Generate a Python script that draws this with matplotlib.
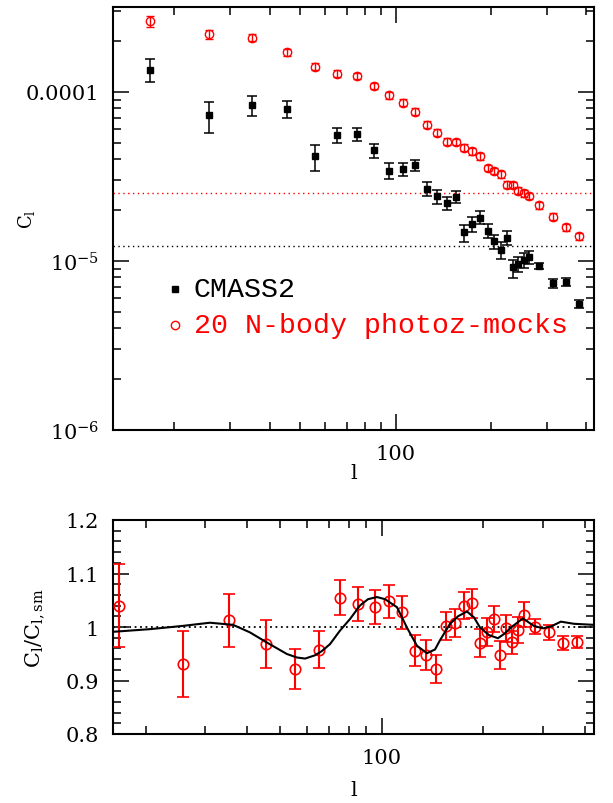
import matplotlib
matplotlib.use("Agg")
import matplotlib.pyplot as plt
from matplotlib.ticker import FixedLocator, FixedFormatter, NullFormatter, LogLocator, MultipleLocator, FuncFormatter

plt.rcParams['font.family'] = ['DejaVu Serif']
plt.rcParams['mathtext.fontset'] = 'dejavuserif'

# ---------------- data ----------------
ell = [16.7, 25.8, 35.3, 45.4, 55.5, 65.3, 75.3, 85.2, 95.4, 105.3,
       115.2, 125.2, 135.3, 145.0, 154.7, 164.8, 174.8, 184.9, 195.2, 205.0,
       214.6, 224.3, 234.1, 244.1, 253.5, 263.6, 284.0, 313.2, 344.0, 378.3]

cmass_cl = [1.355e-4, 7.28e-5, 8.34e-5, 7.9e-5, 4.17e-5, 5.55e-5, 5.62e-5, 4.52e-5, 3.41e-5, 3.50e-5,
            3.68e-5, 2.66e-5, 2.41e-5, 2.20e-5, 2.39e-5, 1.48e-5, 1.65e-5, 1.80e-5, 1.50e-5, 1.31e-5,
            1.16e-5, 1.36e-5, 9.21e-6, 9.56e-6, 1.01e-5, 1.06e-5, 9.38e-6, 7.38e-6, 7.48e-6, 5.57e-6]
cmass_hi = [1.575e-4, 8.76e-5, 9.43e-5, 8.81e-5, 4.84e-5, 6.10e-5, 6.10e-5, 4.92e-5, 3.79e-5, 3.82e-5,
            3.98e-5, 2.92e-5, 2.63e-5, 2.40e-5, 2.58e-5, 1.64e-5, 1.82e-5, 1.97e-5, 1.66e-5, 1.43e-5,
            1.29e-5, 1.50e-5, 1.02e-5, 1.06e-5, 1.11e-5, 1.15e-5, 9.77e-6, 7.82e-6, 7.90e-6, 5.88e-6]
cmass_lo = [1.146e-4, 5.70e-5, 7.18e-5, 7.05e-5, 3.42e-5, 4.97e-5, 5.11e-5, 4.08e-5, 3.04e-5, 3.18e-5,
            3.40e-5, 2.41e-5, 2.18e-5, 2.00e-5, 2.21e-5, 1.30e-5, 1.49e-5, 1.65e-5, 1.37e-5, 1.18e-5,
            1.03e-5, 1.24e-5, 7.96e-6, 8.57e-6, 9.09e-6, 9.56e-6, 8.93e-6, 6.95e-6, 7.11e-6, 5.27e-6]

mock_cl = [2.62e-4, 2.19e-4, 2.09e-4, 1.72e-4, 1.41e-4, 1.28e-4, 1.24e-4, 1.085e-4, 9.56e-5, 8.65e-5,
           7.65e-5, 6.41e-5, 5.74e-5, 5.08e-5, 5.06e-5, 4.69e-5, 4.46e-5, 4.16e-5, 3.56e-5, 3.41e-5,
           3.26e-5, 2.83e-5, 2.82e-5, 2.61e-5, 2.52e-5, 2.43e-5, 2.14e-5, 1.83e-5, 1.58e-5, 1.40e-5]
mock_err = [2.1e-5, 1.3e-5, 1.0e-5, 8.0e-6, 6.5e-6, 6.0e-6, 5.5e-6, 5.0e-6, 4.5e-6, 4.0e-6,
            3.5e-6, 3.0e-6, 2.6e-6, 2.3e-6, 2.3e-6, 2.1e-6, 2.0e-6, 1.9e-6, 1.6e-6, 1.5e-6,
            1.45e-6, 1.3e-6, 1.3e-6, 1.2e-6, 1.15e-6, 1.1e-6, 1.0e-6, 8.5e-7, 7.5e-7, 6.5e-7]

shot_mock = 2.52e-5
shot_cmass = 1.22e-5

ratio = [1.040, 0.931, 1.0125, 0.969, 0.9215, 0.9576, 1.0548, 1.043, 1.0368, 1.048,
         1.0275, 0.9557, 0.948, 0.9215, 1.0013, 1.007, 1.040, 1.0443, 0.9707, 0.991,
         1.015, 0.9477, 0.9975, 0.9714, 0.9938, 1.023, 1.0006, 0.990, 0.9707, 0.9726]
ratio_err = [0.078, 0.061, 0.050, 0.045, 0.038, 0.035, 0.033, 0.032, 0.032, 0.031,
             0.031, 0.029, 0.028, 0.027, 0.026, 0.026, 0.025, 0.027, 0.026, 0.026,
             0.025, 0.026, 0.025, 0.022, 0.024, 0.023, 0.0135, 0.0134, 0.013, 0.011]

curve_l = [16.0, 20.6, 25.7, 31.0, 36.3, 40.7, 45.7, 52.4, 56.1, 59.3, 63.4, 66.5, 70.3, 75.2,
           80.6, 86.2, 91.1, 96.8, 102.3, 111.0, 118.8, 127.2, 136.2, 143.9, 148.8, 159.4,
           168.3, 178.9, 187.7, 195.6, 207.8, 221.0, 231.7, 241.4, 262.0, 282.5, 300.4,
           317.2, 339.6, 371.2, 426.0]
curve_v = [0.991, 0.996, 1.002, 1.008, 1.004, 0.990, 0.971, 0.9495, 0.943, 0.941, 0.947, 0.955,
           0.968, 0.993, 1.015, 1.040, 1.052, 1.056, 1.052, 1.037, 0.999, 0.965, 0.951, 0.958,
           0.975, 1.006, 1.020, 1.029, 1.018, 0.999, 0.985, 0.979, 0.988, 0.999, 1.016, 1.002,
           0.9975, 1.001, 1.010, 1.006, 1.004]

top_ylabels = [r'$10^{-6}$', r'$10^{-5}$', '0.0001']
top_yticks = [1e-6, 1e-5, 1e-4]
bot_yticks = [0.8, 0.9, 1.0, 1.1, 1.2]
bot_ylabels = ['0.8', '0.9', '1', '1.1', '1.2']

# ---------------- figure ----------------
fig = plt.figure(figsize=(6.13, 8.04), dpi=100)
ax1 = fig.add_axes([113/613, 1-431/804, 481/613, 423/804])
ax2 = fig.add_axes([113/613, 1-735/804, 481/613, 214/804])

def style(ax):
    for s in ax.spines.values():
        s.set_linewidth(1.5)
    ax.tick_params(which='both', direction='in', top=True, right=True, width=1.1,
                   labelsize=15, pad=10)
    ax.tick_params(which='major', length=11.5)
    ax.tick_params(which='minor', length=6)

# top panel
yerr = [[c - l for c, l in zip(cmass_cl, cmass_lo)], [h - c for c, h in zip(cmass_cl, cmass_hi)]]
ax1.errorbar(ell, mock_cl, yerr=mock_err, fmt='o', ms=6, mfc='none', mec='red', mew=1.0,
             ecolor='red', elinewidth=1.0, capsize=3, capthick=1.0, zorder=3)
ax1.errorbar(ell, cmass_cl, yerr=yerr, fmt='s', ms=5, mfc='black', mec='black',
             ecolor='black', elinewidth=1.1, capsize=3.3, capthick=1.1, zorder=4)
ax1.axhline(shot_mock, color='red', ls=(0, (1, 2.5)), lw=1.0)
ax1.axhline(shot_cmass, color='black', ls=(0, (1, 2.5)), lw=1.0)
ax1.set_xscale('log')
ax1.set_yscale('log')
ax1.set_xlim(12.8, 423)
ax1.set_ylim(1e-6, 3.18e-4)
style(ax1)
ax1.yaxis.set_major_locator(FixedLocator(top_yticks))
ax1.yaxis.set_major_formatter(FixedFormatter(top_ylabels))
ax1.yaxis.set_minor_locator(LogLocator(base=10, subs=range(2, 10)))
ax1.yaxis.set_minor_formatter(NullFormatter())
ax1.xaxis.set_major_locator(FixedLocator([100]))
ax1.xaxis.set_major_formatter(FuncFormatter(lambda v, p: '%d' % v))
ax1.xaxis.set_minor_locator(LogLocator(base=10, subs=range(2, 10)))
ax1.xaxis.set_minor_formatter(NullFormatter())
ax1.set_xlabel('l', fontsize=15)
ax1.xaxis.set_label_coords(0.5, -0.078)
ax1.set_ylabel(r'$\mathrm{C_l}$', fontsize=13)
ax1.yaxis.set_label_coords(-0.158, 0.5)

# legend (manual)
legend_font = ['Liberation Mono', 'DejaVu Sans Mono']
ax1.plot([0.129], [0.333], 's', ms=5, color='black', transform=ax1.transAxes)
ax1.text(0.168, 0.333, 'CMASS2', transform=ax1.transAxes, fontsize=20.3, va='center',
         ha='left', family=legend_font)
ax1.plot([0.129], [0.248], 'o', ms=6, mfc='none', mec='red', mew=1.0, transform=ax1.transAxes)
ax1.text(0.168, 0.248, '20 N-body photoz-mocks', transform=ax1.transAxes, fontsize=20.3,
         va='center', ha='left', color='red', family=legend_font)

# bottom panel
ax2.errorbar(ell, ratio, yerr=ratio_err, fmt='o', ms=7.5, mfc='none', mec='red', mew=1.2,
             ecolor='red', elinewidth=1.5, capsize=4, capthick=1.5, zorder=3)
ax2.plot(curve_l, curve_v, color='black', lw=1.5, zorder=4)
ax2.axhline(1.0, color='black', ls=(0, (1, 2)), lw=1.3)
ax2.set_xscale('log')
ax2.set_xlim(16.0, 425.6)
ax2.set_ylim(0.8, 1.2)
style(ax2)
ax2.yaxis.set_major_locator(FixedLocator(bot_yticks))
ax2.yaxis.set_major_formatter(FixedFormatter(bot_ylabels))
ax2.yaxis.set_minor_locator(MultipleLocator(0.02))
ax2.xaxis.set_major_locator(FixedLocator([100]))
ax2.xaxis.set_major_formatter(FuncFormatter(lambda v, p: '%d' % v))
ax2.xaxis.set_minor_locator(LogLocator(base=10, subs=range(2, 10)))
ax2.xaxis.set_minor_formatter(NullFormatter())
ax2.set_xlabel('l', fontsize=15)
ax2.xaxis.set_label_coords(0.5, -0.215)
ax2.set_ylabel(r'$\mathrm{C_l/C_{l,sm}}$', fontsize=15)
ax2.yaxis.set_label_coords(-0.14, 0.5)

fig.savefig('out.png', dpi=100)
